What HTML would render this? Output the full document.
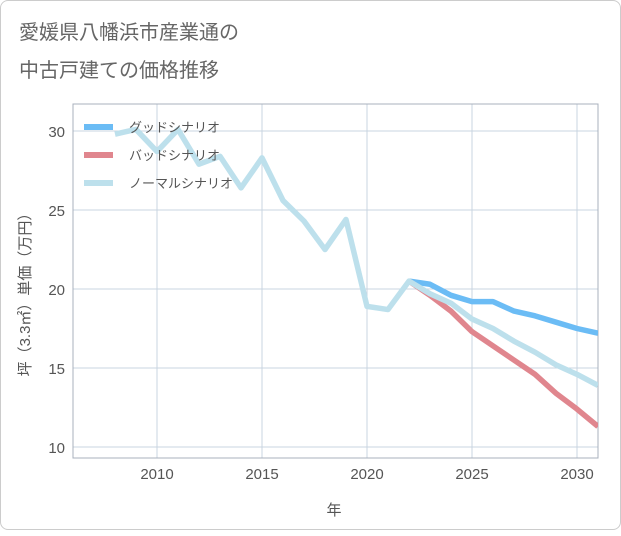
<!DOCTYPE html>
<html><head><meta charset="utf-8"><style>
body{margin:0;background:#fff;}
.wrap{position:absolute;left:0;top:0;width:619px;height:528px;border:1px solid #ccc;border-radius:8px;background:#fff;}
text{font-family:"Liberation Sans","Noto Sans CJK JP",sans-serif;}
</style></head><body>
<div class="wrap">
<svg id="c" width="621" height="530"></svg>
</div>
<script>
const years=[2008,2009,2010,2011,2012,2013,2014,2015,2016,2017,2018,2019,2020,2021,2022,2023,2024,2025,2026,2027,2028,2029,2030,2031];
const normal=[29.8,30.1,28.7,30.1,27.9,28.4,26.4,28.3,25.6,24.3,22.5,24.4,18.9,18.7,20.5,19.7,19.1,18.1,17.5,16.7,16.0,15.2,14.6,13.9];
const goodYears=[2022,2023,2024,2025,2026,2027,2028,2029,2030,2031];
const good=[20.5,20.3,19.6,19.2,19.2,18.6,18.3,17.9,17.5,17.2];
const bad=[20.5,19.6,18.6,17.3,16.4,15.5,14.6,13.4,12.4,11.3];
const xTicks=[2010,2015,2020,2025,2030];
const yTicks=[10,15,20,25,30];
const legendLabels=["グッドシナリオ","バッドシナリオ","ノーマルシナリオ"];
const colors=["#6bbcf5","#e0868e","#bde0ec"];

const L=72,R=597,T=103,B=457;
const x=v=>L+(v-2006)/(2031-2006)*(R-L);
const y=v=>130+(30-v)*15.8;
const svg=document.getElementById('c');
const NS='http://www.w3.org/2000/svg';
function mk(t,a,p){const e=document.createElementNS(NS,t);for(const k in a)e.setAttribute(k,a[k]);(p||svg).appendChild(e);return e;}
let e;
e=mk('text',{x:18,y:38,'font-size':20,fill:'#666'});e.textContent='愛媛県八幡浜市産業通の';


e=mk('text',{x:18,y:76,'font-size':20,fill:'#666'});e.textContent='中古戸建ての価格推移';


xTicks.forEach(t=>{const gx=x(t);
 e=mk('line',{x1:gx,x2:gx,y1:T,y2:B,stroke:'#c9d4e0','stroke-width':1});
 
 });
yTicks.forEach(t=>{const gy=y(t);
 e=mk('line',{x1:L,x2:R,y1:gy,y2:gy,stroke:'#c9d4e0','stroke-width':1});
 
 });
e=mk('rect',{x:L,y:T,width:R-L,height:B-T,fill:'none',stroke:'#a8b0bc','stroke-width':1});


xTicks.forEach(t=>{e=mk('text',{x:x(t),y:478,'font-size':15,fill:'#555','text-anchor':'middle'});e.textContent=t;
 
 });
yTicks.forEach(t=>{e=mk('text',{x:64,y:y(t)+6,'font-size':15,fill:'#555','text-anchor':'end'});e.textContent=t;
 
 });
e=mk('text',{x:333,y:514,'font-size':15,fill:'#555','text-anchor':'middle'});e.textContent='年';


e=mk('text',{x:0,y:0,'font-size':15,fill:'#555','text-anchor':'middle',transform:'translate(29,290) rotate(-90)'});e.textContent='坪（3.3㎡）単価（万円）';


const clip=mk('clipPath',{id:'cp'});mk('rect',{x:L,y:T,width:R-L,height:B-T},clip);
function line(xs,vs,col,name){const d=xs.map((v,i)=>(i?'L':'M')+x(v)+','+y(vs[i])).join('');
 e=mk('path',{d:d,fill:'none',stroke:col,'stroke-width':5.5,'stroke-linejoin':'round','clip-path':'url(#cp)'});
 
 }
line(goodYears,good,colors[0],'good-scenario-line');
line(goodYears,bad,colors[1],'bad-scenario-line');
line(years,normal,colors[2],'normal-scenario-line');
legendLabels.forEach((lab,i)=>{const ly=126+i*28;
 e=mk('line',{x1:83,x2:112,y1:ly,y2:ly,stroke:colors[i],'stroke-width':6});
 
 
 e=mk('text',{x:128,y:ly+5,'font-size':13,fill:'#555'});e.textContent=lab;
 
 });
</script>
</body></html>
